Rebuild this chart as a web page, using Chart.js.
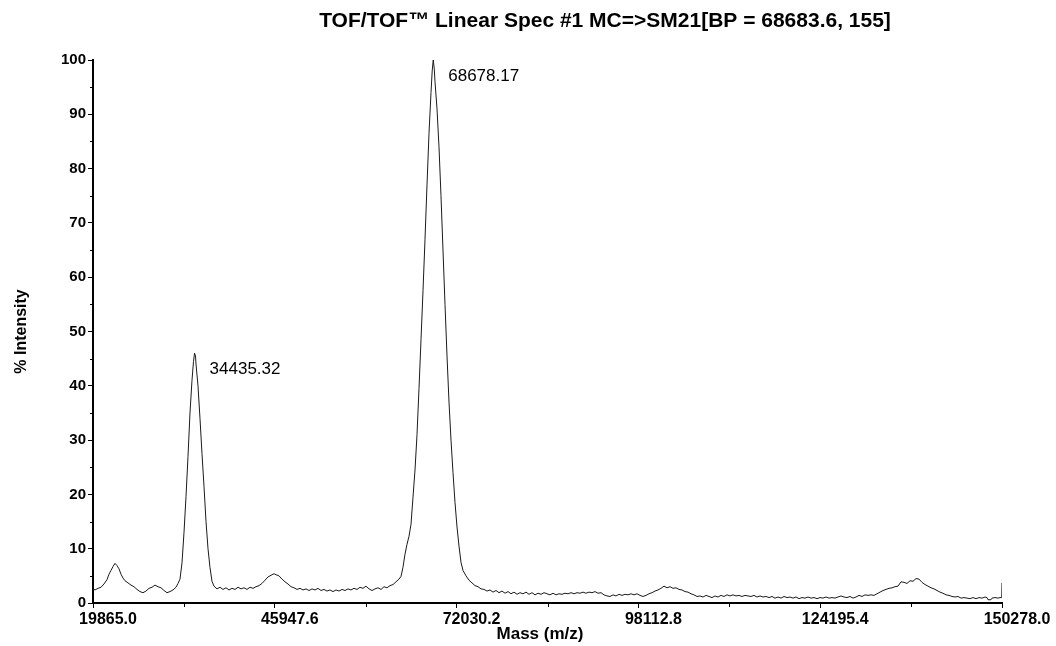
<!DOCTYPE html>
<html>
<head>
<meta charset="utf-8">
<script src="https://cdn.jsdelivr.net/npm/chart.js@4"></script>
<style>
  html, body { margin: 0; padding: 0; background: #fff; }
  #wrap { width: 1056px; height: 646px; }
</style>
</head>
<body>
<div id="wrap"><canvas id="chart" width="1056" height="646"></canvas></div>
<script>
const chartTitle = 'TOF/TOF\u2122 Linear Spec #1 MC=>SM21[BP = 68683.6, 155]';
const xTitle = 'Mass (m/z)';
const xTicks = [19865.0, 45947.6, 72030.2, 98112.8, 124195.4, 150278.0];
const yTicks = [0, 10, 20, 30, 40, 50, 60, 70, 80, 90, 100];
const peakLabels = [34435.32, 68678.17];

const masses = [
  19865, 20152, 20582, 21013, 21443, 21874, 22161, 22447, 22734, 23021,
  23308, 23595, 23882, 24169, 24456, 24886, 25317, 25747, 26178, 26608,
  27039, 27469, 27899, 28330, 28760, 29191, 29621, 30051, 30482, 30912,
  31343, 31773, 32060, 32347, 32634, 32921, 33208, 33495, 33781, 34068,
  34284, 34435.32, 34571, 34643, 34929, 35216, 35503, 35790, 36077, 36364,
  36651, 36937, 37224, 37655, 38085, 38516, 38946, 39377, 39807, 40238,
  40668, 41099, 41529, 41959, 42390, 42820, 43251, 43681, 44112, 44542,
  44972, 45403, 45833, 46120, 46550, 46981, 47411, 47842, 48272, 48703,
  49133, 49563, 49994, 50424, 50855, 51285, 51716, 52146, 52576, 53007,
  53437, 53868, 54298, 54729, 55159, 55589, 56020, 56450, 56881, 57311,
  57742, 58172, 58602, 59033, 59463, 59894, 60324, 60755, 61185, 61615,
  62046, 62476, 62907, 63337, 63768, 64055, 64341, 64628, 64915, 65202,
  65489, 65775, 66062, 66349, 66636, 66923, 67210, 67497, 67784, 68071,
  68358, 68530, 68678.17, 68817, 68932, 69219, 69505, 69792, 70079, 70366,
  70653, 70940, 71227, 71514, 71801, 72088, 72374, 72661, 72948, 73379,
  73809, 74240, 74670, 75101, 75531, 75961, 76392, 76822, 77253, 77683,
  78114, 78544, 78975, 79405, 79835, 80266, 80696, 81127, 81557, 81988,
  82418, 82848, 83279, 83709, 84140, 84570, 85000, 85431, 85861, 86292,
  86722, 87153, 87583, 88013, 88444, 88874, 89305, 89735, 90165, 90596,
  91026, 91457, 91887, 92318, 92748, 93178, 93609, 94039, 94470, 94900,
  95330, 95761, 96191, 96622, 97052, 97482, 97913, 98343, 98774, 99204,
  99634, 100065, 100495, 100926, 101356, 101787, 102217, 102647, 103078, 103508,
  103939, 104369, 104799, 105230, 105660, 106091, 106521, 106951, 107382, 107812,
  108243, 108673, 109103, 109534, 109964, 110395, 110825, 111256, 111686, 112116,
  112547, 112977, 113408, 113838, 114268, 114699, 115129, 115560, 115990, 116421,
  116851, 117281, 117712, 118142, 118573, 119003, 119433, 119864, 120294, 120725,
  121155, 121586, 122016, 122446, 122877, 123307, 123738, 124168, 124598, 125029,
  125459, 125890, 126320, 126750, 127181, 127611, 128042, 128472, 128903, 129333,
  129763, 130194, 130624, 131055, 131485, 131915, 132346, 132776, 133207, 133637,
  134067, 134498, 134928, 135359, 135789, 136220, 136650, 137080, 137511, 137941,
  138372, 138802, 139232, 139663, 140093, 140524, 140954, 141385, 141815, 142245,
  142676, 143106, 143537, 143967, 144397, 144828, 145258, 145689, 146119, 146549,
  146980, 147410, 147841, 148128, 148271, 148702, 148845, 149275, 149706, 149993,
  150240, 150278
];

const intensity = [
  2.6, 2.4, 2.7, 2.9, 3.5, 4.3, 5.3, 6.0, 6.7, 7.3,
  6.9, 6.3, 5.3, 4.6, 4.1, 3.7, 3.3, 3.0, 2.5, 2.1,
  1.9, 2.2, 2.7, 2.9, 3.3, 3.0, 2.8, 2.3, 1.9, 2.1,
  2.4, 2.9, 3.6, 4.4, 7.4, 13, 19.6, 27, 35, 41,
  44.5, 46, 45.5, 44, 40, 34, 27.5, 21.5, 15, 10,
  6.5, 4.0, 3.1, 2.6, 2.9, 2.5, 2.8, 2.4, 2.7, 2.5,
  2.9, 2.6, 2.8, 2.5, 2.9, 2.7, 3.0, 3.2, 3.6, 4.2,
  4.8, 5.1, 5.4, 5.2, 5.0, 4.4, 3.9, 3.5, 3.0, 2.8,
  2.5, 2.7, 2.4, 2.6, 2.3, 2.6, 2.4, 2.7, 2.3, 2.5,
  2.2, 2.4, 2.1, 2.4, 2.2, 2.5, 2.3, 2.6, 2.4, 2.7,
  2.5, 2.9, 2.7, 3.1, 2.6, 2.3, 2.6, 2.8, 2.5, 3.0,
  2.8, 3.2, 3.4, 3.9, 4.4, 4.9, 6.6, 9.0, 10.8, 12.3,
  14.5, 19.5, 24.5, 31, 39.5, 48.5, 57.5, 67, 77, 86.5,
  94, 98, 100, 98.5, 96, 91, 84, 75, 65, 55,
  45.5, 37, 30, 24, 18.5, 14, 10.5, 7.5, 6.0, 5.0,
  4.2, 3.7, 3.2, 3.0, 2.6, 2.5, 2.2, 2.4, 2.0, 2.3,
  1.9, 2.2, 1.8, 2.1, 1.7, 2.0, 1.6, 1.9, 1.7, 2.0,
  1.6, 1.9, 1.5, 1.8, 1.6, 1.9, 1.7, 1.5, 1.8, 1.5,
  1.7, 1.6, 1.8, 1.7, 1.9, 1.7, 1.9, 1.8, 2.0, 1.8,
  2.0, 1.9, 2.1, 1.8, 1.9, 1.5, 1.3, 1.2, 1.5, 1.3,
  1.6, 1.4, 1.6, 1.5, 1.7, 1.5, 1.7, 1.4, 1.2, 1.4,
  1.7, 1.9, 2.2, 2.4, 2.7, 3.1, 2.8, 3.0, 2.7, 2.8,
  2.5, 2.4, 2.1, 2.0, 1.7, 1.5, 1.2, 1.3, 1.1, 1.4,
  1.2, 1.0, 1.3, 1.1, 1.4, 1.2, 1.5, 1.3, 1.5, 1.3,
  1.4, 1.2, 1.4, 1.3, 1.2, 1.4, 1.1, 1.3, 1.1, 1.2,
  1.0, 1.2, 0.9, 1.1, 0.9, 1.2, 1.0, 1.1, 0.9, 1.1,
  0.8, 1.0, 0.9, 1.1, 0.9, 1.0, 0.8, 1.0, 0.9, 1.1,
  0.9, 1.0, 0.9, 1.1, 1.3, 1.1, 1.0, 1.2, 0.9, 1.1,
  1.4, 1.2, 1.5, 1.4, 1.5, 1.4, 1.7, 2.0, 2.3, 2.5,
  2.7, 2.8, 3.0, 3.1, 3.9, 3.8, 3.6, 4.1, 4.0, 4.5,
  4.4, 3.8, 3.4, 3.1, 2.8, 2.6, 2.3, 2.0, 1.8, 1.5,
  1.4, 1.2, 1.1, 1.2, 0.9, 1.0, 0.9, 0.8, 1.0, 0.8,
  1.0, 0.9, 1.1, 1.0, 0.6, 0.6, 0.9, 1.0, 0.9, 1.0,
  1.0, 3.7
];

Chart.defaults.font.family = '"Liberation Sans", Arial, sans-serif';
Chart.defaults.color = '#000';

// title, x title, peak labels and minor ticks
const extras = {
  id: 'extras',
  afterDraw(chart) {
    const { ctx, scales } = chart;
    const x = scales.x, y = scales.y;
    ctx.save();
    ctx.fillStyle = '#000';
    ctx.textAlign = 'center';
    ctx.textBaseline = 'middle';
    ctx.font = 'bold 21px "Liberation Sans", Arial, sans-serif';
    ctx.fillText(chartTitle, 605, 21);
    ctx.font = 'bold 17px "Liberation Sans", Arial, sans-serif';
    ctx.fillText(xTitle, 540, 634);

    ctx.font = '17px "Liberation Sans", Arial, sans-serif';
    ctx.textAlign = 'left';
    peakLabels.forEach(m => {
      const i = masses.indexOf(m);
      const px = x.getPixelForValue(m);
      const py = y.getPixelForValue(intensity[i]);
      ctx.fillText(m.toFixed(2), px + 15, py + 16);
    });

    ctx.strokeStyle = '#000';
    ctx.lineWidth = 1;
    ctx.beginPath();
    for (let k = 0; k < xTicks.length - 1; k++) {
      const px = Math.round(x.getPixelForValue((xTicks[k] + xTicks[k + 1]) / 2)) + 0.5;
      ctx.moveTo(px, y.bottom);
      ctx.lineTo(px, y.bottom + 4);
    }
    for (let k = 0; k < yTicks.length - 1; k++) {
      const py = Math.round(y.getPixelForValue((yTicks[k] + yTicks[k + 1]) / 2)) + 0.5;
      ctx.moveTo(x.left - 3, py);
      ctx.lineTo(x.left, py);
    }
    ctx.stroke();
    ctx.restore();
  }
};

const ctx = document.getElementById('chart').getContext('2d');
new Chart(ctx, {
  type: 'line',
  data: {
    datasets: [{
      data: masses.map((m, i) => ({ x: m, y: intensity[i] })),
      borderColor: '#1a1a1a',
      borderWidth: 1,
      pointRadius: 0,
      tension: 0,
      fill: false,
    }],
  },
  options: {
    responsive: false,
    animation: false,
    layout: { padding: { left: 0, right: 54, top: 60, bottom: 0 } },
    plugins: {
      legend: { display: false },
      tooltip: { enabled: false },
    },
    scales: {
      x: {
        type: 'linear',
        min: xTicks[0],
        max: xTicks[xTicks.length - 1],
        afterBuildTicks: (scale) => {
          scale.ticks = xTicks.map(v => ({ value: v }));
        },
        afterFit: (scale) => { scale.height = 43; },
        border: { display: true, color: '#000', width: 2 },
        grid: { drawOnChartArea: false, drawTicks: true, tickLength: 5, color: '#000' },
        ticks: {
          autoSkip: false,
          maxRotation: 0,
          padding: 2,
          labelOffset: 15,
          font: { size: 16, weight: 'bold' },
          callback: (v) => Number(v).toFixed(1),
        },
      },
      y: {
        min: 0,
        max: 100,
        afterBuildTicks: (scale) => {
          scale.ticks = yTicks.map(v => ({ value: v }));
        },
        afterFit: (scale) => { scale.width = 93; },
        border: { display: true, color: '#000', width: 2 },
        grid: { drawOnChartArea: false, drawTicks: true, tickLength: 5, color: '#000' },
        ticks: {
          padding: 2,
          font: { size: 15, weight: 'bold' },
        },
        title: {
          display: true,
          text: '% Intensity',
          font: { size: 16, weight: 'bold' },
          padding: { top: 12, bottom: 0 },
        },
      },
    },
  },
  plugins: [extras],
});
</script>
</body>
</html>
